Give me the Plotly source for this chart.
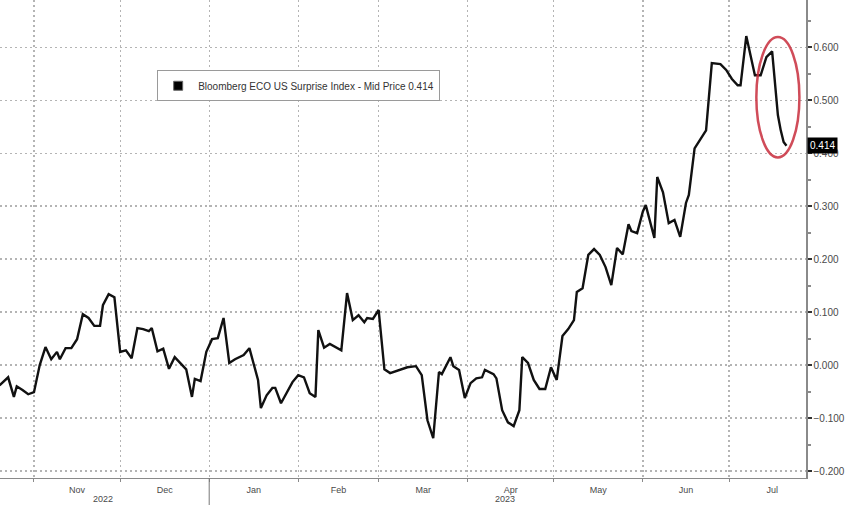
import plotly.graph_objects as go

# --- data (Bloomberg ECO US Surprise Index) ---
dates = [
    "2022-10-20", "2022-10-23", "2022-10-25", "2022-10-26", "2022-10-28", "2022-10-30",
    "2022-11-01", "2022-11-03", "2022-11-05", "2022-11-07", "2022-11-09", "2022-11-10",
    "2022-11-12", "2022-11-14", "2022-11-16", "2022-11-18", "2022-11-20", "2022-11-22",
    "2022-11-24", "2022-11-25", "2022-11-27", "2022-11-29",
    "2022-12-01", "2022-12-03", "2022-12-05", "2022-12-07", "2022-12-09", "2022-12-11",
    "2022-12-12", "2022-12-14", "2022-12-16", "2022-12-18", "2022-12-20", "2022-12-22",
    "2022-12-24", "2022-12-26", "2022-12-27", "2022-12-29", "2022-12-31",
    "2023-01-02", "2023-01-04", "2023-01-06", "2023-01-08", "2023-01-10", "2023-01-13",
    "2023-01-15", "2023-01-18", "2023-01-19", "2023-01-21", "2023-01-23", "2023-01-24",
    "2023-01-26", "2023-01-28", "2023-01-30",
    "2023-02-01", "2023-02-03", "2023-02-05", "2023-02-07", "2023-02-08", "2023-02-10",
    "2023-02-12", "2023-02-15", "2023-02-16", "2023-02-18", "2023-02-20", "2023-02-22",
    "2023-02-24", "2023-02-25", "2023-02-27",
    "2023-03-01", "2023-03-03", "2023-03-05", "2023-03-08", "2023-03-11", "2023-03-14",
    "2023-03-16", "2023-03-18", "2023-03-20", "2023-03-22", "2023-03-23", "2023-03-26",
    "2023-03-27", "2023-03-29", "2023-03-31",
    "2023-04-02", "2023-04-04", "2023-04-06", "2023-04-07", "2023-04-10", "2023-04-11",
    "2023-04-13", "2023-04-15", "2023-04-17", "2023-04-19", "2023-04-20", "2023-04-22",
    "2023-04-24", "2023-04-26", "2023-04-28", "2023-04-30",
    "2023-05-02", "2023-05-04", "2023-05-06", "2023-05-08", "2023-05-09", "2023-05-11",
    "2023-05-13", "2023-05-15", "2023-05-17", "2023-05-19", "2023-05-21", "2023-05-23",
    "2023-05-25", "2023-05-27", "2023-05-28", "2023-05-30",
    "2023-06-01", "2023-06-02", "2023-06-05", "2023-06-06", "2023-06-08", "2023-06-10",
    "2023-06-12", "2023-06-14", "2023-06-16", "2023-06-17", "2023-06-19", "2023-06-21",
    "2023-06-23", "2023-06-25", "2023-06-28", "2023-06-30",
    "2023-07-02", "2023-07-04", "2023-07-05", "2023-07-07", "2023-07-08", "2023-07-10",
    "2023-07-12", "2023-07-14", "2023-07-16", "2023-07-17", "2023-07-18", "2023-07-19",
    "2023-07-20", "2023-07-21",
]
values = [
    -0.038, -0.023, -0.060, -0.040, -0.047, -0.055,
    -0.051, 0.000, 0.034, 0.011, 0.025, 0.011,
    0.032, 0.032, 0.049, 0.096, 0.089, 0.074,
    0.074, 0.113, 0.134, 0.128,
    0.025, 0.028, 0.013, 0.070, 0.068, 0.064,
    0.070, 0.026, 0.031, -0.007, 0.015, 0.004,
    -0.008, -0.060, -0.026, -0.030, 0.025,
    0.049, 0.051, 0.089, 0.004, 0.011, 0.019,
    0.032, -0.028, -0.081, -0.057, -0.043, -0.043,
    -0.072, -0.051, -0.032,
    -0.019, -0.023, -0.053, -0.060, 0.066, 0.033,
    0.040, 0.030, 0.028, 0.136, 0.085, 0.094,
    0.081, 0.089, 0.087,
    0.104, -0.008, -0.015, -0.009, -0.004, -0.002,
    -0.019, -0.104, -0.138, -0.013, -0.017, 0.015,
    -0.002, -0.009, -0.062,
    -0.034, -0.025, -0.023, -0.009, -0.017, -0.025,
    -0.085, -0.108, -0.115, -0.085, 0.015, 0.004,
    -0.028, -0.045, -0.045, -0.004,
    -0.028, 0.055, 0.068, 0.085, 0.138, 0.145,
    0.208, 0.219, 0.208, 0.185, 0.151, 0.221,
    0.209, 0.266, 0.253, 0.249,
    0.290, 0.302, 0.240, 0.355, 0.326, 0.268,
    0.274, 0.242, 0.306, 0.321, 0.409, 0.425,
    0.443, 0.570, 0.568, 0.557,
    0.540, 0.528, 0.528, 0.621, 0.598, 0.547,
    0.547, 0.581, 0.592, 0.538, 0.472, 0.443,
    0.421, 0.414,
]
series_name = "Bloomberg ECO US Surprise Index - Mid Price"
last_value = values[-1]
y_ticks = [-0.2, -0.1, 0.0, 0.1, 0.2, 0.3, 0.4, 0.5, 0.6]
x_range = ["2022-10-20 04:00", "2023-07-27 19:00"]
y_range = [-0.213, 0.689]
year_labels = [("2022", "2022-11-25"), ("2023", "2023-04-14")]
year_break = "2023-01-01"
highlight = dict(x0="2023-07-10 12:00", x1="2023-07-25 12:00", y0=0.392, y1=0.619)

AXIS_GREY = "#8a8a8a"
GRID_GREY = "#b4b4b4"
TEXT_GREY = "#4a4a4a"
FONT = "Liberation Sans"
DOTS = "1.5px,3.5px"

fig = go.Figure()
fig.add_trace(go.Scatter(
    x=dates, y=values, mode="lines",
    line=dict(color="#111111", width=2.4),
    showlegend=False, hoverinfo="skip",
))
# legend entry with a square swatch, as in the Bloomberg legend
fig.add_trace(go.Scatter(
    x=[None], y=[None], mode="markers",
    marker=dict(symbol="square", size=9, color="#000000",
                line=dict(color="#666666", width=1)),
    name=f"{series_name} {last_value:.3f}",
    showlegend=True,
))

fig.update_layout(
    width=848, height=505,
    margin=dict(l=0, r=42, t=0, b=27),
    paper_bgcolor="white", plot_bgcolor="white",
    font=dict(family=FONT, size=9, color=TEXT_GREY),
    legend=dict(
        x=0.195, y=0.853, xanchor="left", yanchor="top",
        bgcolor="white", bordercolor="#9a9a9a", borderwidth=1,
        font=dict(family=FONT, size=10, color="#333333"),
        itemwidth=30, tracegroupgap=0,
    ),
    xaxis=dict(
        type="date", range=x_range,
        tick0="2022-11-01", dtick="M1", tickformat="%b",
        ticklabelmode="period",
        showgrid=True, gridcolor=GRID_GREY, griddash=DOTS, gridwidth=1.3,
        showline=True, linecolor=AXIS_GREY, linewidth=1,
        ticks="outside", ticklen=3, tickcolor=AXIS_GREY,
        tickfont=dict(family=FONT, size=9, color=TEXT_GREY),
        zeroline=False, fixedrange=True,
    ),
    yaxis=dict(
        side="right", range=y_range,
        tickvals=y_ticks, tickformat=".3f",
        showgrid=True, gridcolor=GRID_GREY, griddash=DOTS, gridwidth=1.3,
        showline=True, linecolor=AXIS_GREY, linewidth=1.5,
        ticks="outside", ticklen=4, tickcolor="#333333", tickwidth=2,
        minor=dict(dtick=0.05, tick0=0, ticks="outside", ticklen=3,
                   tickcolor=AXIS_GREY, showgrid=False),
        tickfont=dict(family=FONT, size=10, color=TEXT_GREY),
        zeroline=False, fixedrange=True,
    ),
)

# last-price tag on the right axis (covers the 0.400 label, as in the original)
fig.add_annotation(
    x=1, xref="paper", y=last_value, yref="y",
    text=f"{last_value:.3f}", showarrow=False,
    xanchor="left", xshift=1, yanchor="middle",
    bgcolor="#000000", font=dict(family=FONT, size=10, color="white"),
    borderpad=2,
)

# year labels below the month labels
for label, center in year_labels:
    fig.add_annotation(
        x=center, xref="x", y=0, yref="paper", yshift=-14,
        text=label, showarrow=False, yanchor="top",
        font=dict(family=FONT, size=9, color=TEXT_GREY),
    )

# year separator below the axis
fig.add_shape(
    type="line", xref="x", yref="paper",
    x0=year_break, x1=year_break, y0=0, y1=-0.06,
    line=dict(color="#777777", width=1),
)

# red highlight ellipse around the recent drop
fig.add_shape(
    type="circle", xref="x", yref="y", **highlight,
    line=dict(color="rgba(200,45,60,0.85)", width=2.5),
)

fig.write_html(
    "out.html",
    config={"displayModeBar": False, "staticPlot": True},
    post_script="document.body.style.margin='0';document.body.style.overflow='hidden';",
)
